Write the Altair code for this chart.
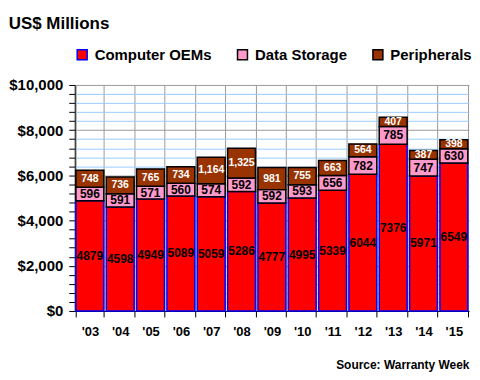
import altair as alt
import pandas as pd

years = ["'03", "'04", "'05", "'06", "'07", "'08", "'09", "'10", "'11", "'12", "'13", "'14", "'15"]
oem = [4879, 4598, 4949, 5089, 5059, 5286, 4777, 4995, 5339, 6044, 7376, 5971, 6549]
storage = [596, 591, 571, 560, 574, 592, 592, 593, 656, 782, 785, 747, 630]
periph = [748, 736, 765, 734, 1164, 1325, 981, 755, 663, 564, 407, 387, 398]
series_names = ["Computer OEMs", "Data Storage", "Peripherals"]
fills = ["#FF0000", "#FF99CC", "#993300"]
strokes = ["#0000FF", "#000000", "#000000"]
y_ticks = list(range(0, 10001, 400))

FONT = "Liberation Sans"

rows = []
for i, yr in enumerate(years):
    base = 0
    for k, (name, vals) in enumerate(zip(series_names, [oem, storage, periph])):
        v = vals[i]
        rows.append(dict(year=yr, series=name, order=k, value=v,
                         y0=base, y1=base + v, mid=base + v / 2,
                         label=(f"{v:,}" if k == 2 else str(v))))
        base += v
df = pd.DataFrame(rows)

x_enc = alt.X("year:N", sort=years,
              scale=alt.Scale(paddingInner=0.08, paddingOuter=0.04),
              axis=alt.Axis(title="Source: Warranty Week", titleAnchor="end",
                            titleFont=FONT, titleFontSize=12, titleFontWeight="bold",
                            titleColor="black", titlePadding=21,
                            labelFont=FONT, labelFontSize=13, labelFontWeight="bold",
                            labelColor="black", labelAngle=0, labelPadding=9,
                            tickBand="extent", tickColor="black", tickSize=6,
                            domainColor="black", grid=True, gridColor="#999999",
                            gridWidth=1))

y_scale = alt.Scale(domain=[0, 10000], nice=False)

bars = alt.Chart(df).mark_bar(strokeWidth=1.5).encode(
    x=x_enc,
    y=alt.Y("y0:Q", scale=y_scale,
            axis=alt.Axis(values=y_ticks, tickCount=len(y_ticks), title=None,
                          labelOverlap=False,
                          labelExpr="datum.value % 2000 === 0 ? format(datum.value, '$,.0f') : ''",
                          labelFont=FONT, labelFontSize=15, labelFontWeight="bold",
                          labelColor="black", labelPadding=6,
                          tickColor="black", tickSize=6, domainColor="black",
                          grid=True,
                          gridColor=alt.condition("datum.value % 2000 === 0",
                                                  alt.value("#999999"), alt.value("#99CCFF")))),
    y2="y1:Q",
    color=alt.Color("series:N", sort=series_names,
                    scale=alt.Scale(domain=series_names, range=fills),
                    legend=alt.Legend(title=None, orient="top", direction="horizontal")),
    stroke=alt.Stroke("series:N", sort=series_names,
                      scale=alt.Scale(domain=series_names, range=strokes),
                      legend=alt.Legend(title=None, orient="top", direction="horizontal")),
    order=alt.Order("order:Q"),
)

dark_text = alt.Chart(df).transform_filter("datum.order < 2").mark_text(
    font=FONT, fontSize=12, fontWeight="bold", color="black"
).encode(x=alt.X("year:N", sort=years), y=alt.Y("mid:Q"), text="label:N")

light_text = alt.Chart(df).transform_filter("datum.order == 2").mark_text(
    font=FONT, fontSize=10.5, fontWeight="bold", color="white"
).encode(x=alt.X("year:N", sort=years), y=alt.Y("mid:Q"), text="label:N")

chart = alt.layer(bars, dark_text, light_text).properties(
    width=396, height=227, background="white",
    padding={"left": 0, "top": 5.5, "right": 0, "bottom": 0},
    title=alt.TitleParams("US$ Millions", anchor="start", frame="bounds",
                          font=FONT, fontSize=17, fontWeight="bold", color="black",
                          offset=14.5),
).configure_view(strokeWidth=0).configure_legend(
    labelFont=FONT, labelFontSize=15, labelFontWeight="bold", labelColor="black",
    symbolType="square", symbolSize=100, symbolStrokeWidth=1.5, symbolOpacity=1,
    columnPadding=22, labelOffset=5, labelLimit=300, offset=22, padding=0,
)

chart.save("out.html", embed_options={"renderer": "svg", "actions": False})
